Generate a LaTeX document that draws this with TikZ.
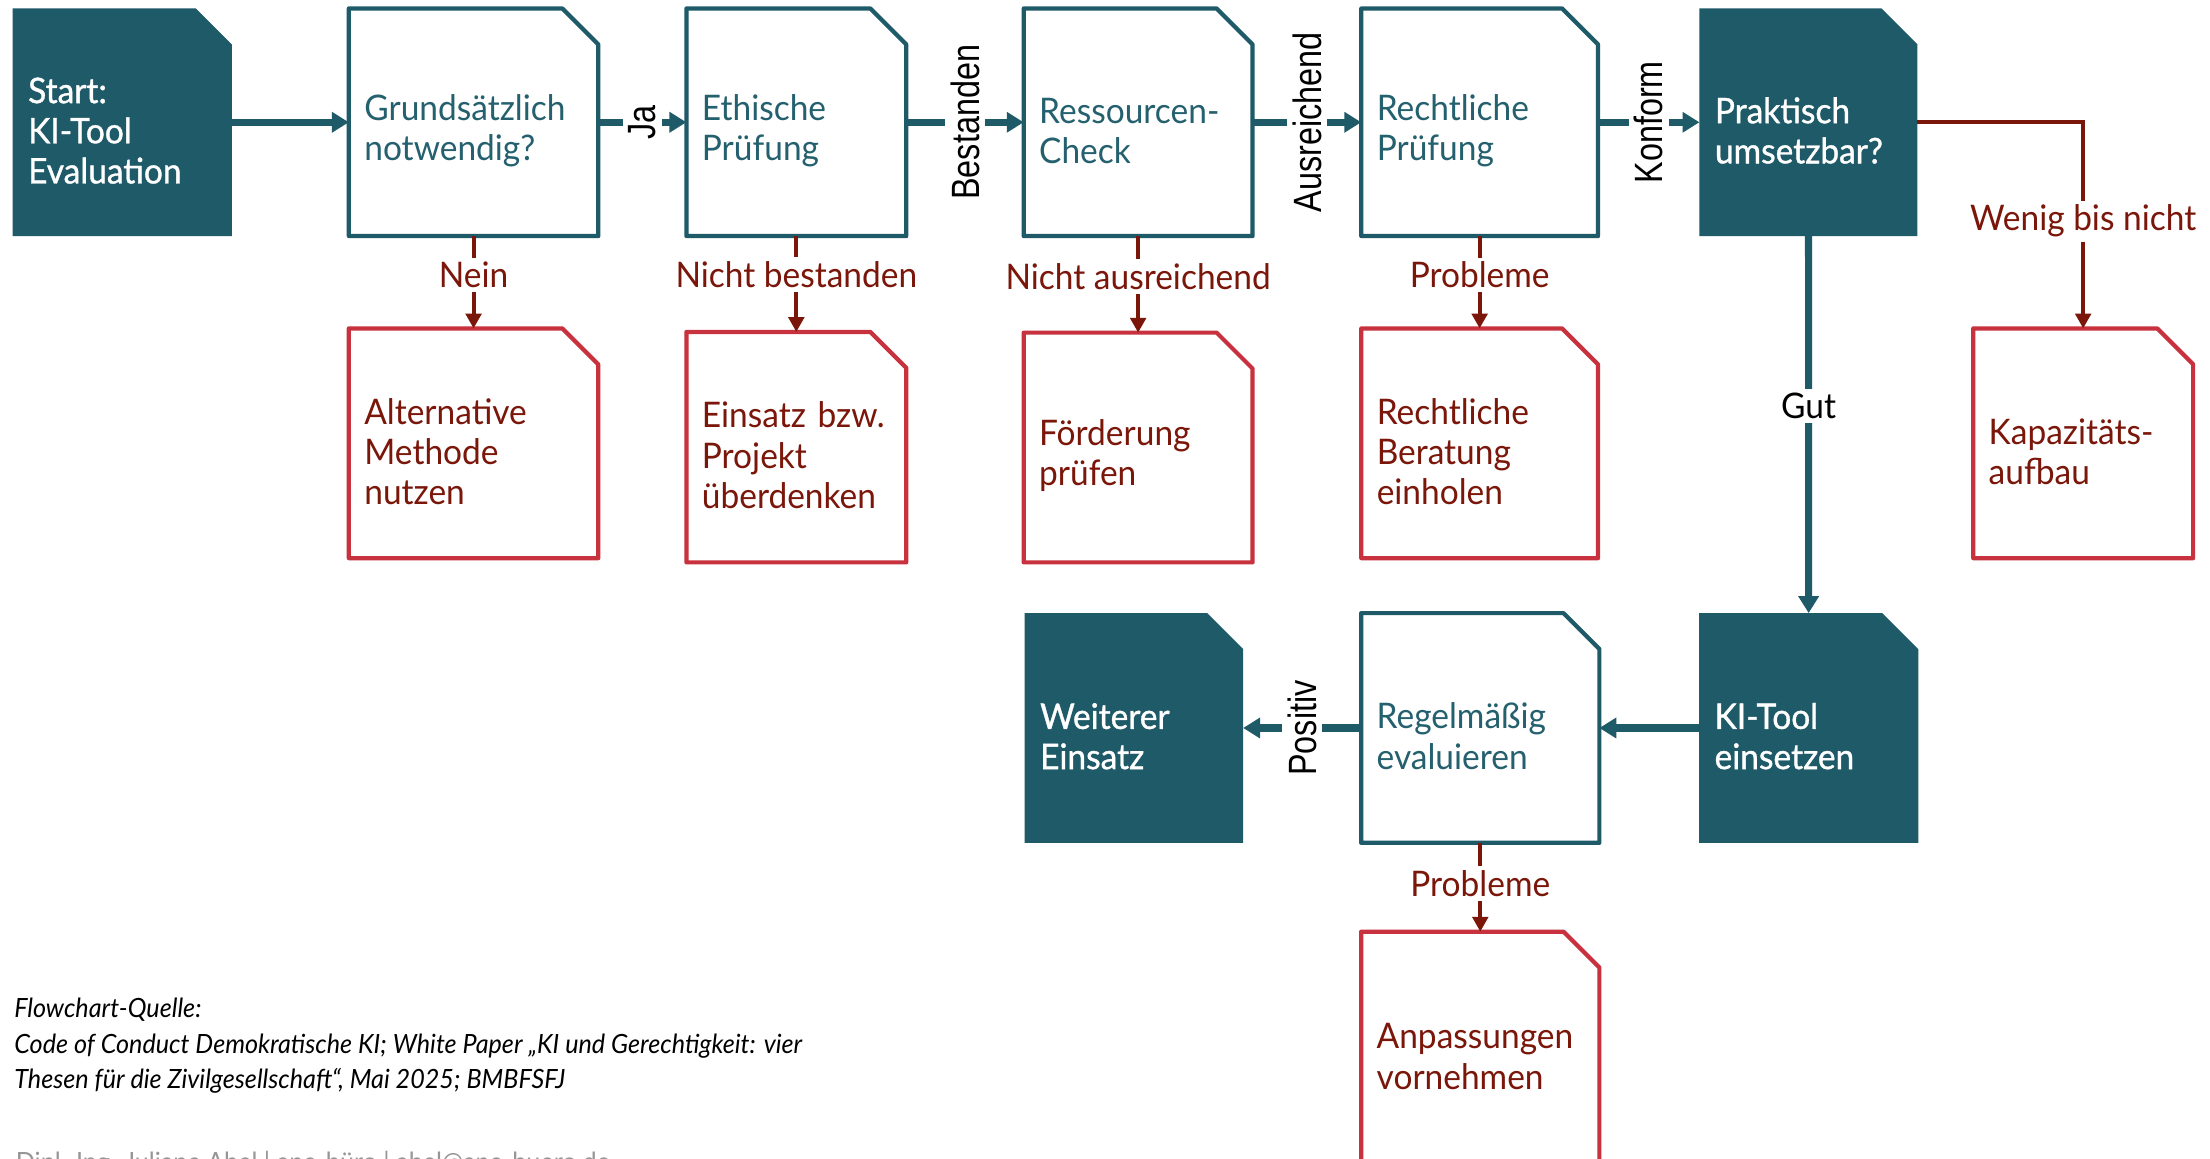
\documentclass[tikz,border=0pt]{standalone}
\usepackage{fontspec}
\setmainfont[FakeStretch=0.95]{Lato}
\newfontfamily\whitefont[FakeStretch=0.95,FakeBold=1]{Lato}
\newfontfamily\labelfont[FakeStretch=0.82]{Liberation Sans}
\usetikzlibrary{arrows.meta}
\definecolor{tealc}{RGB}{31,90,104}
\definecolor{tealtext}{RGB}{36,96,110}
\definecolor{redborder}{RGB}{200,50,62}
\definecolor{darkred}{RGB}{122,22,10}
\definecolor{graytext}{RGB}{150,150,150}
\pgfdeclarelayer{bg}
\pgfsetlayers{bg,main}
\newcommand\dogear[2]{\path[#2] (#1.south west) -- (#1.north west) -- ([xshift=-25.5pt]#1.north east) -- ([yshift=-25.5pt]#1.north east) -- (#1.south east) -- cycle;}
\tikzset{
 boxtxt/.style={rectangle, inner xsep=11pt, inner ysep=0pt, outer sep=0pt, align=left, font=\fontsize{25}{28.5}\selectfont, execute at begin node={\rule{0pt}{30pt}}},
 tealtxt/.style={boxtxt, text=tealtext},
 whitetxt/.style={boxtxt, text=white, font=\whitefont\fontsize{25}{28.5}\selectfont},
 redtxt/.style={boxtxt, text=darkred},
 tealline/.style={draw=tealc, line width=5pt, -{Triangle[length=12pt,width=14pt]}},
 redline/.style={draw=darkred, line width=2.8pt, -{Triangle[length=10.5pt,width=11pt]}},
 vlab/.style={rotate=90, fill=white, inner sep=4pt, font=\labelfont\fontsize{28}{28}\selectfont, text=black},
 rlab/.style={fill=white, inner xsep=2pt, inner ysep=3pt, font=\fontsize{25}{25}\selectfont, text=darkred},
 blab/.style={rlab, text=black},
 filledshape/.style={fill=tealc},
 whiteshape/.style={draw=tealc, line width=3pt, fill=white, line join=round},
 redshape/.style={draw=redborder, line width=3pt, fill=white, line join=round},
}
\begin{document}
\begin{tikzpicture}[x=1pt,y=-1pt]
\clip (0,0) rectangle (1568,822.3);
% top row
\node[whitetxt, minimum width=155.5pt, minimum height=161.5pt, text width=133.5pt] (start) at (86.75,86.75) {Start:\\KI-Tool\\Evaluation};
\node[tealtxt, minimum width=177pt, minimum height=161.5pt, text width=155pt] (grund) at (336,86.75) {Grundsätzlich\\notwendig?};
\node[tealtxt, minimum width=156pt, minimum height=161.5pt, text width=134pt] (ethik) at (565,86.75) {Ethische\\Prüfung};
\node[tealtxt, minimum width=162.4pt, minimum height=161.5pt, text width=140.4pt] (ress) at (807.5,86.75) {Ressourcen-\\Check};
\node[tealtxt, minimum width=168pt, minimum height=161.5pt, text width=146pt] (recht) at (1049.8,86.75) {Rechtliche\\Prüfung};
\node[whitetxt, minimum width=154.7pt, minimum height=161.5pt, text width=132.7pt] (prakt) at (1283.1,86.75) {Praktisch\\umsetzbar?};
% second row
\node[redtxt, minimum width=177pt, minimum height=163pt, text width=155pt] (alt) at (336,314.5) {Alternative\\Methode\\nutzen};
\node[redtxt, minimum width=156pt, minimum height=163.5pt, text width=134pt] (einsatz) at (565,317.25) {Einsatz~bzw.\\Projekt\\überdenken};
\node[redtxt, minimum width=162.4pt, minimum height=163pt, text width=140.4pt] (foerd) at (807.5,317.5) {Förderung\\prüfen};
\node[redtxt, minimum width=168pt, minimum height=163pt, text width=146pt] (berat) at (1049.8,314.5) {Rechtliche\\Beratung\\einholen};
\node[redtxt, minimum width=156pt, minimum height=163pt, text width=134pt] (kapaz) at (1478,314.5) {Kapazitäts-\\aufbau};
% third row
\node[whitetxt, minimum width=155pt, minimum height=163pt, text width=133pt] (weiter) at (804.5,516.5) {Weiterer\\Einsatz};
\node[tealtxt, minimum width=169pt, minimum height=163pt, text width=147pt] (regel) at (1050.25,516.5) {Regelmäßig\\evaluieren};
\node[whitetxt, minimum width=155.5pt, minimum height=163pt, text width=133.5pt] (kitool) at (1283.25,516.5) {KI-Tool\\einsetzen};
% fourth row
\node[redtxt, minimum width=169pt, minimum height=165pt, text width=147pt] (anpass) at (1050.25,743.5) {Anpassungen\\vornehmen};
% shapes
\begin{pgfonlayer}{bg}
\fill[white] (0,0) rectangle (1568,822.3);
\dogear{start}{filledshape}
\dogear{grund}{whiteshape}
\dogear{ethik}{whiteshape}
\dogear{ress}{whiteshape}
\dogear{recht}{whiteshape}
\dogear{prakt}{filledshape}
\dogear{alt}{redshape}
\dogear{einsatz}{redshape}
\dogear{foerd}{redshape}
\dogear{berat}{redshape}
\dogear{kapaz}{redshape}
\dogear{weiter}{filledshape}
\dogear{regel}{whiteshape}
\dogear{kitool}{filledshape}
\dogear{anpass}{redshape}
\end{pgfonlayer}
% connectors
\draw[tealline] (start) -- (grund);
\draw[tealline] (grund) -- node[vlab]{Ja} (ethik);
\draw[tealline] (ethik) -- node[vlab]{Bestanden} (ress);
\draw[tealline] (ress) -- node[vlab]{Ausreichend} (recht);
\draw[tealline] (recht) -- node[vlab]{Konform} (prakt);
\draw[redline] (grund) -- node[rlab,pos=0.42]{Nein} (alt);
\draw[redline] (ethik) -- node[rlab,pos=0.4]{Nicht bestanden} (einsatz);
\draw[redline] (ress) -- node[rlab,pos=0.42]{Nicht ausreichend} (foerd);
\draw[redline] (recht) -- node[rlab,pos=0.42]{Probleme} (berat);
\draw[redline] (prakt.east) -| node[rlab,pos=0.74]{Wenig bis nicht} (kapaz.north);
\draw[tealline] (prakt) -- node[blab,pos=0.45]{Gut} (kitool);
\draw[tealline] (kitool) -- (regel);
\draw[tealline] (regel) -- node[vlab]{Positiv} (weiter);
\draw[redline] (regel) -- node[rlab,pos=0.46]{Probleme} (anpass);
% footer
\node[anchor=west, inner sep=0pt, align=left, font=\itshape\fontsize{18.8}{25}\selectfont] (src) at (10,742) {Flowchart-Quelle:\\Code of Conduct Demokratische KI; White Paper „KI und Gerechtigkeit: vier\\Thesen für die Zivilgesellschaft“, Mai 2025; BMBFSFJ};
\node[anchor=base west, inner sep=0pt, text=graytext, font=\fontsize{18.8}{18.8}\selectfont] (sig) at (11,831) {Dipl.-Ing. Juliane Abel | ane-büro | abel@ane-buero.de};
\end{tikzpicture}
\end{document}
